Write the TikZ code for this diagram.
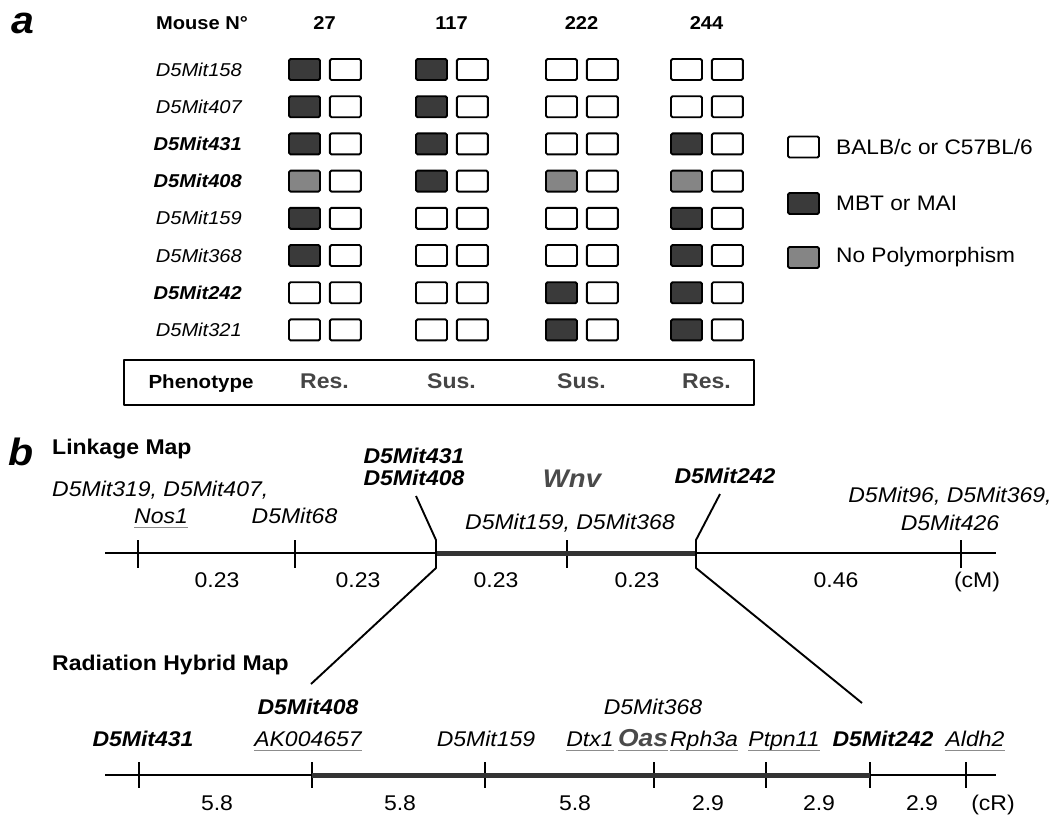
\documentclass[tikz,border=0pt]{standalone}
\usepackage{fontspec}
\setmainfont{Liberation Sans}[FakeStretch=1.08]
\usepackage{xcolor}
\usepackage{tikz}
\usetikzlibrary{positioning}

\definecolor{mbt}{HTML}{3A3A3A}
\definecolor{nopoly}{HTML}{858585}
\definecolor{locus}{HTML}{4A4A4A}
\definecolor{ulgray}{HTML}{8C8C8C}
\newcommand{\pxfont}[1]{\fontsize{#1}{#1}\selectfont}

\begin{document}
\begin{tikzpicture}[x=1pt, y=-1pt, node distance=8pt, line join=round,
    txt/.style={inner sep=0pt, anchor=base},
    panel/.style={txt, font=\pxfont{38}\bfseries\itshape},
    head/.style={txt, font=\pxfont{18.6}\bfseries},
    marker/.style={txt, font=\pxfont{18.6}\itshape},
    keymarker/.style={txt, font=\pxfont{18.6}\bfseries\itshape},
    legend/.style={inner sep=0pt, font=\pxfont{21}},
    outcome/.style={txt, font=\pxfont{21.3}\bfseries, text=black!73},
    maptitle/.style={txt, font=\pxfont{21.3}\bfseries},
    gene/.style={txt, font=\pxfont{21.3}\itshape},
    keygene/.style={txt, font=\pxfont{21.3}\bfseries\itshape},
    locus/.style={txt, font=\pxfont{25.5}\bfseries\itshape, text=locus},
    dist/.style={txt, font=\pxfont{21.3}},
    ul/.style={append after command={([yshift=-4.5pt]\tikzlastnode.base west) edge[draw=ulgray, line width=1.4pt] ([yshift=-4.5pt]\tikzlastnode.base east)}},
    allele/.style={draw, line width=1.9pt, rounded corners=1.5pt, fill=white, minimum width=31pt, minimum height=21pt, inner sep=0pt},
    mapline/.style={line width=1.9pt},
    mapbold/.style={line width=5pt, black!80},
]
\useasboundingbox (0,0) rectangle (1056,815);

% (a) genotypes
\node[panel] (pa) at (23,33) {a};
\node[head] (mouse) at (202,29.5) {Mouse N°};

\foreach \m/\sty [count=\r] in {D5Mit158/marker, D5Mit407/marker, D5Mit431/keymarker, D5Mit408/keymarker,
    D5Mit159/marker, D5Mit368/marker, D5Mit242/keymarker, D5Mit321/marker}
  \node[\sty, anchor=base east] (row\r) at (242, {76+37.2*(\r-1)}) {\m};

\foreach \cx/\num/\calls [count=\c] in {288/27/{mbt,mbt,mbt,nopoly,mbt,mbt,white,white},
    415/117/{mbt,mbt,mbt,mbt,white,white,white,white},
    545/222/{white,white,white,nopoly,white,white,mbt,mbt},
    670/244/{white,white,mbt,nopoly,mbt,mbt,mbt,mbt}} {
  \node[head] (num\c) at (\cx+36.5, 29.5) {\num};
  \foreach \f [count=\r] in \calls {
    \node[allele, fill=\f] (a\c-\r) at (\cx+16.5, {69.5+37.2*(\r-1)}) {};
    \node[allele, right=of a\c-\r] (b\c-\r) {};
  }
}

% legend
\node[allele] (keyW) at (803.5,147) {};
\node[legend, right=16pt of keyW] (keyWtext) {BALB/c or C57BL/6};
\node[allele, fill=mbt] (keyD) at (803.5,203.5) {};
\node[legend, right=16pt of keyD] (keyDtext) {MBT or MAI};
\node[allele, fill=nopoly] (keyG) at (803.5,257.5) {};
\node[legend, right=16pt of keyG] (keyGtext) {No Polymorphism};

% phenotype row
\node[draw, line width=1.9pt, minimum width=630pt, minimum height=45pt] (phenobox) at (439,382.5) {};
\node[head, font=\pxfont{19}\bfseries] (phenotype) at (201,388) {Phenotype};
\foreach \p [count=\c] in {Res.,Sus.,Sus.,Res.}
  \node[outcome] (out\c) at (num\c.base |- phenotype.base) {\p};

% (b) linkage map
\node[panel] (pb) at (21,465) {b};
\node[maptitle, anchor=base west] (lmtitle) at (52,454) {Linkage Map};

\draw[mapline] (105,553) coordinate (lm-w) -- (996,553) coordinate (lm-e);
\foreach \x [count=\i] in {138,295,436,567,696,961} {
  \coordinate (lm\i-t) at (\x,540);
  \coordinate (lm\i-b) at (\x,568);
  \draw[mapline] (lm\i-t) -- (lm\i-b);
}
\draw[mapbold] (lm3-t |- lm-w) -- (lm5-t |- lm-w);

\node[gene, anchor=base west] (lmleft) at (52,496) {D5Mit319, D5Mit407,};
\node[gene, ul, anchor=base west] (nos1) at (134,523) {Nos1};
\node[gene] (l68) at (294.5,523) {D5Mit68};
\node[keygene, anchor=center, align=center, font=\fontsize{21.3}{21.5}\selectfont\bfseries\itshape] (l431) at (414,467) {D5Mit431\\D5Mit408};
\node[locus] (wnv) at (572,487) {Wnv};
\node[gene] (l159) at (570,529) {D5Mit159, D5Mit368};
\node[keygene] (l242) at (725,483.5) {D5Mit242};
\node[gene] (l96) at (950,502) {D5Mit96, D5Mit369,};
\node[gene] (l426) at (950,530) {D5Mit426};

\foreach \x/\d [count=\i] in {217/0.23, 358/0.23, 496/0.23, 637/0.23, 836/0.46, 977/(cM)}
  \node[dist] (lmd\i) at (\x,587) {\d};

% radiation hybrid map
\node[maptitle, anchor=base west] (rhtitle) at (52,670) {Radiation Hybrid Map};

\draw[mapline] (105,775) coordinate (rh-w) -- (996,775) coordinate (rh-e);
\foreach \x [count=\i] in {139,312,485,654,766,870,966} {
  \coordinate (rh\i-t) at (\x,762);
  \coordinate (rh\i-b) at (\x,788);
  \draw[mapline] (rh\i-t) -- (rh\i-b);
}
\draw[mapbold] (rh2-t |- rh-w) -- (rh6-t |- rh-w);

\node[keygene] (r431) at (143,746) {D5Mit431};
\node[keygene] (r408) at (308,714) {D5Mit408};
\node[gene, ul] (ak) at (308,746) {AK004657};
\node[gene] (r159) at (486,746) {D5Mit159};
\node[gene] (r368) at (653,714) {D5Mit368};
\node[gene, ul] (dtx1) at (590,746) {Dtx1};
\node[locus, ul, font=\pxfont{24.5}\bfseries\itshape] (oas) at (643,746) {Oas};
\node[gene, ul] (rph3a) at (704,746) {Rph3a};
\node[gene, ul] (ptpn11) at (784,746) {Ptpn11};
\node[keygene] (r242) at (883,746) {D5Mit242};
\node[gene, ul] (aldh2) at (975,746) {Aldh2};

\foreach \x/\d [count=\i] in {217/5.8, 400/5.8, 575/5.8, 708/2.9, 819/2.9, 922/2.9, 993/(cR)}
  \node[dist] (rhd\i) at (\x,810) {\d};

% connectors between the maps
\coordinate (up408) at (416,496);
\coordinate (dn408) at (311,684);
\coordinate (up242) at (720,494);
\coordinate (dn242) at (862,703);
\draw[mapline] (up408) -- (lm3-t) -- (lm3-b) -- (dn408);
\draw[mapline] (up242) -- (lm5-t) -- (lm5-b) -- (dn242);

\end{tikzpicture}
\end{document}
